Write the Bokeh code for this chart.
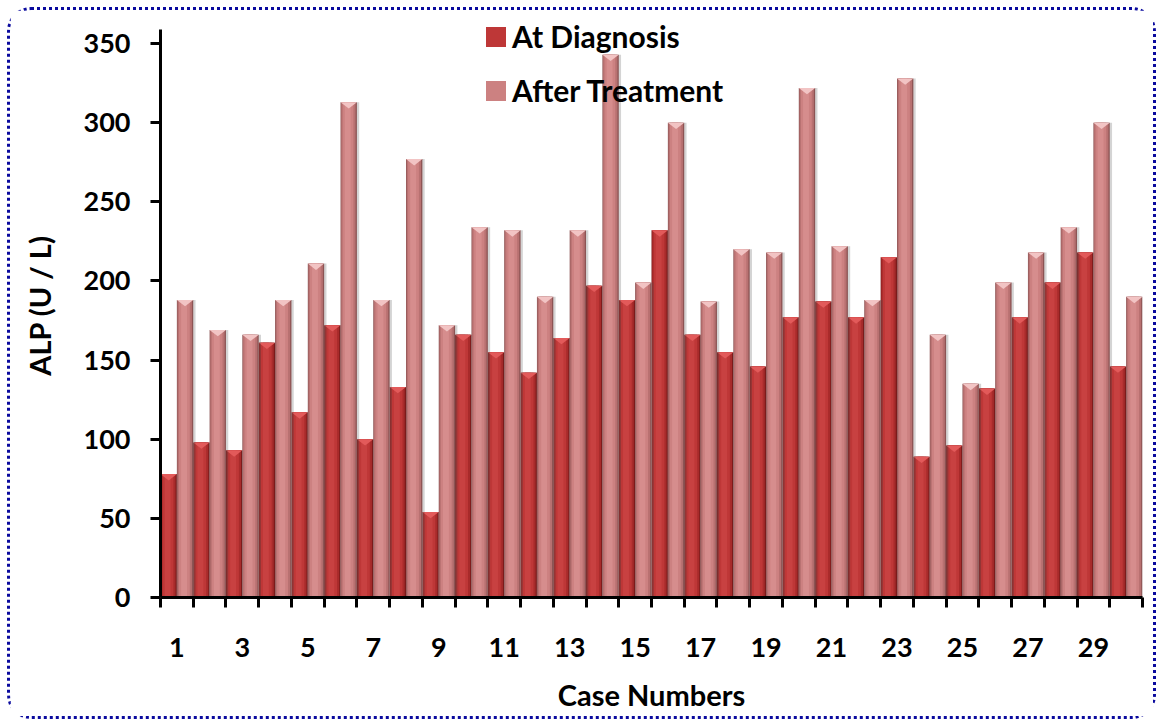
from bokeh.plotting import figure
from bokeh.models import ColumnDataSource, FixedTicker, Legend, LegendItem, Range1d
from bokeh.transform import dodge
from bokeh.embed import file_html
from bokeh.resources import INLINE

# ALP (U / L) per case, at diagnosis and after treatment
cases = list(range(1, 31))
at_diagnosis = [78, 98, 93, 161, 117, 172, 100, 133, 54, 166,
                155, 142, 164, 197, 188, 232, 166, 155, 146, 177,
                187, 177, 215, 89, 96, 132, 177, 199, 218, 146]
after_treatment = [188, 169, 166, 188, 211, 313, 188, 277, 172, 234,
                   232, 190, 232, 343, 199, 300, 187, 220, 218, 322,
                   222, 188, 328, 166, 135, 199, 218, 234, 300, 190]
y_ticks = [0, 50, 100, 150, 200, 250, 300, 350]
x_label_ticks = [1, 3, 5, 7, 9, 11, 13, 15, 17, 19, 21, 23, 25, 27, 29]

FONT = "Lato"
BAR_W = 0.5
BEVEL = 4.0  # depth of the bevelled bar cap, in data units

p = figure(width=1149, height=712, output_backend="svg", toolbar_location=None,
           x_range=Range1d(0.5, 30.5), y_range=Range1d(0, 369),
           min_border_left=150, min_border_right=17, min_border_top=3,
           min_border_bottom=125,
           styles={"margin-left": "7px", "margin-top": "7px",
                   "border": "3px dotted #0a0a9e", "border-radius": "24px"})
p.outline_line_color = None
p.xgrid.visible = False
p.ygrid.visible = False
p.background_fill_color = "white"
p.border_fill_color = "white"

src = ColumnDataSource(dict(case=cases, diag=at_diagnosis, treat=after_treatment))


def cylinder(field, offset, shades, shadow_alpha):
    """Draw one bar series with a shaded, rounded look and a drop shadow."""
    p.vbar(x=dodge("case", offset + 0.07, range=p.x_range), top=field, width=BAR_W,
           source=src, fill_color="#555555", fill_alpha=shadow_alpha, line_color=None)
    rends = []
    for frac, shift, color in shades:
        r = p.vbar(x=dodge("case", offset + shift, range=p.x_range), top=field,
                   width=BAR_W * frac, source=src, fill_color=color, line_color=None)
        rends.append(r)
    return rends


dark = cylinder("diag", -0.25,
                [(1.0, 0.0, "#7a1b1b"), (0.88, -0.01, "#a82b2b"),
                 (0.66, -0.02, "#be3737"), (0.36, -0.03, "#c84141")], 0.25)

# bevelled top caps of the dark bars
dxs = [[c - 0.5, c, c - 0.25] for c in cases]
dys = [[v, v, v - BEVEL] for v in at_diagnosis]
p.patches(xs=dxs, ys=dys, fill_color="#e25a5a", line_color=None)

light = cylinder("treat", 0.25,
                 [(1.0, 0.0, "#8c5454"), (0.88, -0.01, "#b87171"),
                  (0.66, -0.02, "#cc8181"), (0.36, -0.03, "#d68d8d")], 0.25)

lxs = [[c, c + 0.5, c + 0.25] for c in cases]
lys = [[v, v, v - BEVEL] for v in after_treatment]
p.patches(xs=lxs, ys=lys, fill_color="#f2c4c4", line_color=None)

# axes
xa = p.xaxis[0]
xa.ticker = FixedTicker(ticks=x_label_ticks,
                        minor_ticks=[c - 0.5 for c in cases] + [cases[-1] + 0.5])
xa.major_tick_out = 0
xa.major_tick_in = 0
xa.minor_tick_out = 10
xa.minor_tick_in = 0
xa.minor_tick_line_width = 3
xa.minor_tick_line_color = "black"
xa.axis_line_width = 3
xa.axis_line_color = "black"
xa.major_label_standoff = 30
xa.axis_label = "Case Numbers"
xa.axis_label_standoff = 17

ya = p.yaxis[0]
ya.ticker = FixedTicker(ticks=y_ticks)
ya.bounds = (0, 359)
ya.major_tick_out = 10
ya.major_tick_in = 0
ya.major_tick_line_width = 3
ya.major_tick_line_color = "black"
ya.minor_tick_out = 0
ya.minor_tick_in = 0
ya.axis_line_width = 3
ya.axis_line_color = "black"
ya.major_label_standoff = 20
ya.axis_label = "ALP (U / L)"
ya.axis_label_standoff = 24

for ax in (xa, ya):
    ax.major_label_text_font = FONT
    ax.major_label_text_font_style = "bold"
    ax.major_label_text_font_size = "27px"
    ax.major_label_text_color = "black"
    ax.axis_label_text_font = FONT
    ax.axis_label_text_font_style = "bold"
    ax.axis_label_text_font_size = "29px"
    ax.axis_label_text_color = "black"

legend = Legend(items=[LegendItem(label="At Diagnosis", renderers=[dark[2]]),
                       LegendItem(label="After Treatment", renderers=[light[2]])],
                location=(323, 485), orientation="vertical",
                glyph_width=25, glyph_height=25, label_height=44,
                spacing=10, padding=0, margin=0, label_standoff=4,
                background_fill_alpha=0, border_line_alpha=0,
                label_text_font=FONT, label_text_font_style="bold",
                label_text_font_size="30px", label_text_color="black")
legend.level = "underlay"
p.add_layout(legend, "center")

open("out.html", "w").write(file_html(p, INLINE))
